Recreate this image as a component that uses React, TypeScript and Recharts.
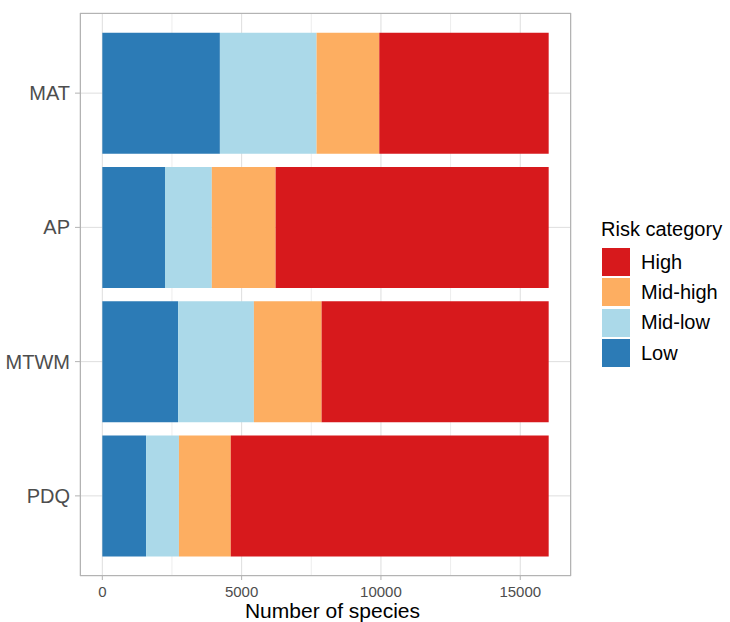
import React from 'react';
import {
  BarChart,
  Bar,
  XAxis,
  YAxis,
  CartesianGrid,
  Label,
} from 'recharts';

const categories = ['MAT', 'AP', 'MTWM', 'PDQ'];
const lowValues = [4220, 2250, 2720, 1570];
const midLowValues = [3470, 1680, 2720, 1180];
const midHighValues = [2250, 2290, 2430, 1860];
const highValues = [6080, 9800, 8150, 11410];

const xTicks = [0, 5000, 10000, 15000];
const xMinorTicks = [2500, 7500, 12500];
const xDomain: [number, number] = [-801, 16821];

const legendItems = [
  { name: 'High', color: '#d7191c' },
  { name: 'Mid-high', color: '#fdae61' },
  { name: 'Mid-low', color: '#abd9e9' },
  { name: 'Low', color: '#2c7bb6' },
];

const data = categories.map((name, i) => ({
  name,
  low: lowValues[i],
  midLow: midLowValues[i],
  midHigh: midHighValues[i],
  high: highValues[i],
}));

const font = '"Liberation Sans", Arial, sans-serif';

const App: React.FC = () => {
  return (
    <div style={{ position: 'absolute', left: 0, top: 0, width: 730, height: 622, fontFamily: font, background: '#fff' }}>
      <BarChart
        width={730}
        height={622}
        data={data}
        layout="vertical"
        margin={{ top: 13, right: 159, bottom: 0, left: 0 }}
        barCategoryGap="5%"
        style={{ fontFamily: font }}
      >
        {/* minor grid from a hidden axis */}
        <XAxis xAxisId="minor" type="number" domain={xDomain} ticks={xMinorTicks} allowDataOverflow hide />
        <CartesianGrid xAxisId="minor" horizontal={false} stroke="#ededed" strokeWidth={1} />
        <CartesianGrid stroke="#dedede" strokeWidth={1} />
        <XAxis
          type="number"
          domain={xDomain}
          ticks={xTicks}
          allowDataOverflow
          axisLine={false}
          tickSize={4}
          tickMargin={6}
          tickLine={{ stroke: '#b3b3b3' }}
          tick={{ fill: '#4d4d4d', fontSize: 15 }}
          height={46}
        >
          <Label value="Number of species" position="insideBottom" offset={4} dx={7} fill="#000" fontSize={21} />
        </XAxis>
        <YAxis
          type="category"
          dataKey="name"
          width={80}
          padding={{ top: 13, bottom: 13 }}
          axisLine={false}
          tickSize={5}
          tickMargin={5}
          tickLine={{ stroke: '#b3b3b3' }}
          tick={{ fill: '#4d4d4d', fontSize: 20 }}
        />
        <Bar dataKey="low" stackId="a" fill="#2c7bb6" isAnimationActive={false} />
        <Bar dataKey="midLow" stackId="a" fill="#abd9e9" isAnimationActive={false} />
        <Bar dataKey="midHigh" stackId="a" fill="#fdae61" isAnimationActive={false} />
        <Bar dataKey="high" stackId="a" fill="#d7191c" isAnimationActive={false} />
      </BarChart>
      {/* panel border */}
      <div
        style={{
          position: 'absolute',
          left: 80,
          top: 13,
          width: 491,
          height: 563,
          boxSizing: 'border-box',
          border: '1.3px solid #b3b3b3',
          pointerEvents: 'none',
        }}
      />
      <div style={{ position: 'absolute', left: 601, top: 216, fontFamily: font }}>
        <div style={{ fontSize: 20, lineHeight: '26px', color: '#000', marginBottom: 5 }}>Risk category</div>
        {legendItems.map((item) => (
          <div key={item.name} style={{ display: 'flex', alignItems: 'center', height: 30.3 }}>
            <div style={{ width: 28, height: 28, background: item.color, marginLeft: 1 }} />
            <span style={{ fontSize: 20, color: '#000', marginLeft: 11 }}>{item.name}</span>
          </div>
        ))}
      </div>
    </div>
  );
};

export default App;
